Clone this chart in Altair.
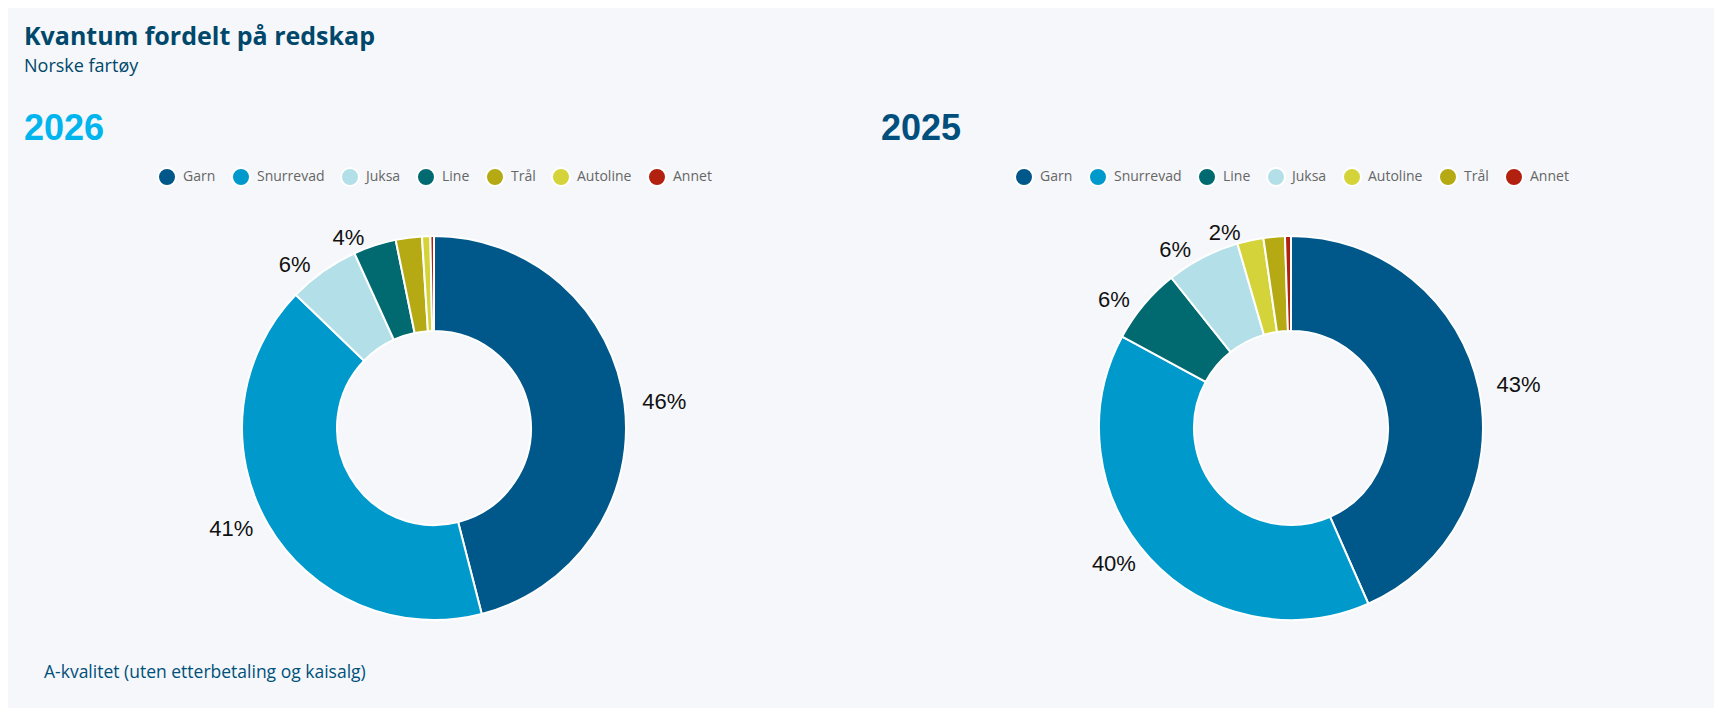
import altair as alt
import pandas as pd

# ---- data ----
title_text = "Kvantum fordelt på redskap"
subtitle_text = "Norske fartøy"
footnote_text = "A-kvalitet (uten etterbetaling og kaisalg)"

year_a = "2026"
cats_a = ["Garn", "Snurrevad", "Juksa", "Line", "Trål", "Autoline", "Annet"]
vals_a = [46.0, 41.2, 6.0, 3.6, 2.2, 0.7, 0.3]
shown_a = [True, True, True, True, False, False, False]

year_b = "2025"
cats_b = ["Garn", "Snurrevad", "Line", "Juksa", "Autoline", "Trål", "Annet"]
vals_b = [43.4, 39.5, 6.4, 6.2, 2.2, 1.8, 0.5]
shown_b = [True, True, True, True, True, False, False]

gear_colors = {
    "Garn": "#00578a",
    "Snurrevad": "#0099cc",
    "Juksa": "#b3dfe8",
    "Line": "#006a70",
    "Trål": "#b5aa14",
    "Autoline": "#d4d43a",
    "Annet": "#b22010",
}

BG = "#f5f7fa"
DARK = "#00486b"


def panel(year, cats, vals, shown, year_color, with_footnote=False):
    total = sum(vals)
    cum = 0.0
    right_lab, left_lab = [], []
    for v, s in zip(vals, shown):
        mid = (cum + v / 2) / total
        cum += v
        lab = f"{round(v)}%" if s else ""
        if mid < 0.5:
            right_lab.append(lab)
            left_lab.append("")
        else:
            right_lab.append("")
            left_lab.append(lab)
    df = pd.DataFrame({
        "cat": cats,
        "val": vals,
        "ord": list(range(len(cats))),
        "labR": right_lab,
        "labL": left_lab,
    })
    color = alt.Color(
        "cat:N",
        scale=alt.Scale(domain=cats, range=[gear_colors[c] for c in cats]),
        legend=alt.Legend(
            title=None, orient="none", direction="horizontal",
            legendX=133, legendY=5,
            symbolType="circle", symbolSize=324, symbolStrokeColor="white",
            symbolStrokeWidth=2, symbolOpacity=1,
            labelFont="Open Sans", labelFontSize=14, labelColor="#666666",
            labelOffset=6, columnPadding=12, columns=7,
        ),
    )
    base = alt.Chart(df).encode(
        theta=alt.Theta("val:Q", stack=True),
        order=alt.Order("ord:Q"),
    )
    arc = base.mark_arc(innerRadius=97, outerRadius=192, stroke="white", strokeWidth=2).encode(color=color)
    txt_r = base.mark_text(radius=210, align="left", baseline="middle", fontSize=22,
                           font="Liberation Sans", color="#111111").encode(text="labR:N", detail="cat:N")
    txt_l = base.mark_text(radius=200, dx=-8, align="right", baseline="middle", fontSize=22,
                           font="Liberation Sans", color="#111111").encode(text="labL:N", detail="cat:N")
    layers = [arc, txt_r, txt_l]
    if with_footnote:
        fn = alt.Chart(pd.DataFrame({"t": [footnote_text]})).mark_text(
            align="left", baseline="middle", fontSize=17.5, font="Open Sans", color="#00507a"
        ).encode(x=alt.value(20), y=alt.value(511), text="t:N")
        layers.append(fn)
    return alt.layer(*layers).properties(
        width=820, height=532,
        title=alt.TitleParams(
            text=year, anchor="start", color=year_color, fontSize=36,
            font="Liberation Sans", fontWeight="bold", offset=14,
        ),
    )


p1 = panel(year_a, cats_a, vals_a, shown_a, "#00b4ee", with_footnote=True)
p2 = panel(year_b, cats_b, vals_b, shown_b, "#004f7c")

chart = alt.hconcat(p1, p2, spacing=37).resolve_scale(color="independent").properties(
    title=alt.TitleParams(
        text=title_text, subtitle=subtitle_text, anchor="start",
        font="Open Sans", fontSize=25, fontWeight="bold", color=DARK,
        subtitleFont="Open Sans", subtitleFontSize=18, subtitleColor=DARK,
        subtitlePadding=8, offset=35,
    ),
    padding={"left": 16, "top": 17, "right": 13, "bottom": 14},
    background=BG,
).configure_view(strokeWidth=0)

chart.save("out.html", embed_options={"renderer": "svg", "actions": False})
